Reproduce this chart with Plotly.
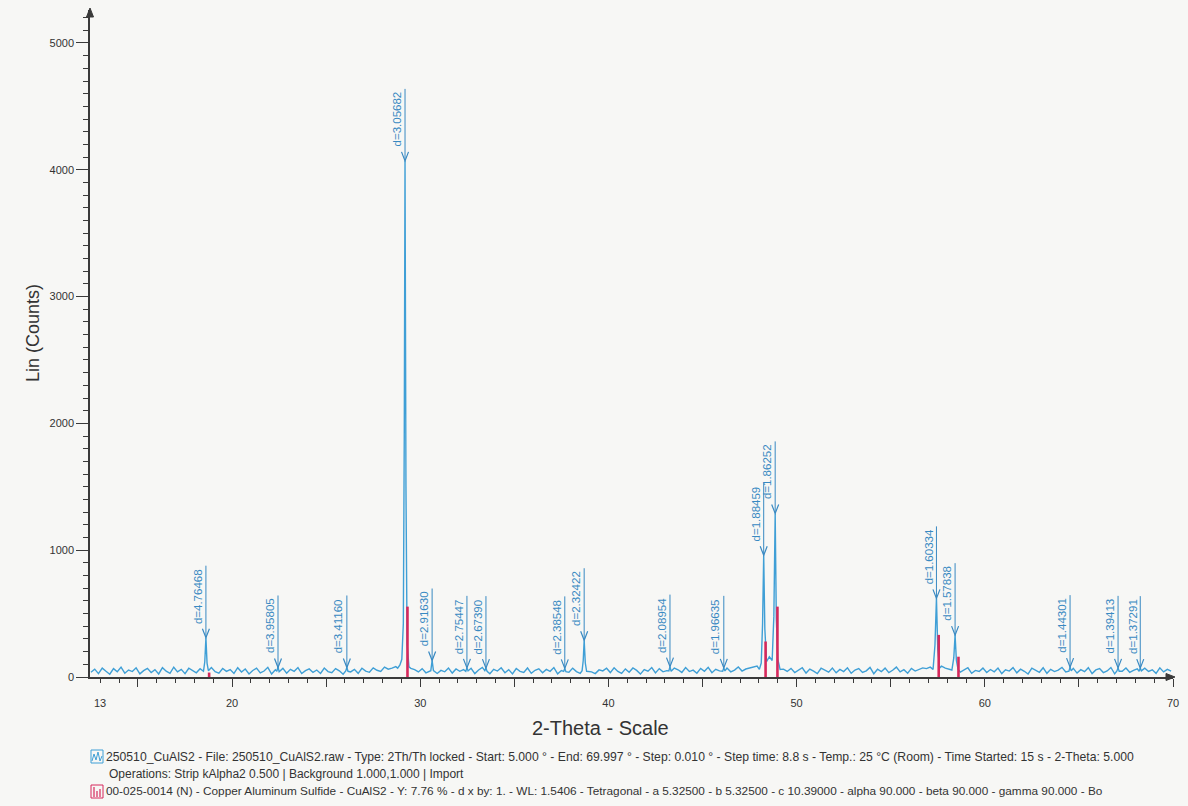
import numpy as np
import plotly.graph_objects as go

# ---------------- data ----------------
# measured scan, background counts on a 0.2 deg grid starting at 12.5 deg 2-theta
scan_start = 12.5
scan_step = 0.2
background_counts = [
    38, 62, 27, 70, 45, 22, 66, 41, 78, 30, 55, 43, 72, 25, 50, 68, 35, 58, 24, 74,
    46, 29, 77, 40, 60, 26, 69, 48, 33, 65, 21, 52, 75, 42, 31, 67, 44, 59, 28, 73,
    39, 63, 24, 51, 70, 32, 47, 76, 23, 57, 41, 68, 30, 61, 45, 74, 27, 50, 64, 36,
    55, 28, 71, 43, 34, 66, 49, 22, 75, 40, 60, 29, 69, 46, 37, 72, 53, 44, 78, 62,
    70, 82, 92, 96, 85, 68, 58, 40, 66, 33, 57, 72, 28, 52, 41, 70, 31, 63, 45, 58,
    38, 69, 27, 55, 76, 42, 26, 61, 47, 73, 34, 58, 24, 67, 44, 36, 71, 29, 53, 64,
    33, 60, 45, 74, 25, 51, 66, 37, 70, 43, 29, 62, 77, 40, 27, 56, 48, 69, 35, 73,
    44, 28, 64, 38, 71, 52, 23, 59, 46, 75, 32, 66, 41, 50, 26, 70, 57, 36, 74, 43,
    54, 30, 68, 45, 77, 34, 61, 48, 25, 71, 41, 55, 79, 47, 63, 72, 80, 86, 74, 82,
    88, 92, 80, 70, 62, 44, 68, 35, 57, 73, 31, 62, 46, 27, 69, 52, 38, 71, 33, 60,
    43, 72, 29, 55, 66, 36, 49, 76, 26, 61, 42, 70, 34, 53, 78, 40, 58, 30, 68, 47,
    60, 72, 66, 78, 82, 74, 85, 70, 62, 45, 67, 38, 58, 73, 29, 52, 44, 70, 35, 59,
    41, 71, 27, 57, 47, 74, 33, 62, 45, 24, 70, 52, 37, 73, 29, 60, 43, 55, 76, 39,
    50, 68, 31, 58, 42, 73, 27, 56, 66, 35, 48, 75, 25, 61, 45, 71, 37, 52, 64, 33,
    69, 44, 57, 29, 72, 40, 60, 47,
]

# diffraction peak profiles (2-theta, counts)
peak_theta = [
    [18.48, 18.55, 18.61, 18.67, 18.74],
    [22.38, 22.44, 22.50],
    [26.04, 26.10, 26.16],
    [28.80, 28.92, 29.02, 29.10, 29.15, 29.19, 29.24, 29.30, 29.40],
    [30.56, 30.63, 30.70],
    [32.42, 32.48, 32.54],
    [33.43, 33.49, 33.55],
    [37.62, 37.68, 37.74],
    [38.60, 38.66, 38.71, 38.77, 38.84],
    [43.21, 43.27, 43.33],
    [46.07, 46.13, 46.19],
    [48.02, 48.12, 48.19, 48.25, 48.31, 48.40, 48.55, 48.70, 48.79, 48.86, 48.92, 49.00, 49.12],
    [57.25, 57.35, 57.43, 57.50, 57.60],
    [58.25, 58.35, 58.42, 58.49, 58.58],
    [64.47, 64.53, 64.59],
    [67.02, 67.08, 67.14],
    [68.20, 68.26, 68.32],
]
peak_counts = [
    [45, 120, 310, 110, 50],
    [45, 80, 42],
    [48, 75, 45],
    [70, 95, 140, 420, 1900, 4070, 1500, 260, 80],
    [50, 130, 50],
    [45, 72, 48],
    [50, 70, 45],
    [45, 68, 42],
    [50, 130, 290, 110, 45],
    [48, 82, 45],
    [45, 72, 48],
    [60, 110, 420, 960, 380, 120, 160, 130, 480, 1290, 460, 140, 60],
    [60, 250, 620, 220, 70],
    [55, 150, 330, 130, 60],
    [45, 78, 48],
    [48, 72, 45],
    [45, 70, 48],
]

# d-spacing labels
label_d = ["4.76468", "3.95805", "3.41160", "3.05682", "2.91630", "2.75447", "2.67390",
           "2.38548", "2.32422", "2.08954", "1.96635", "1.88459", "1.86252", "1.60334",
           "1.57838", "1.44301", "1.39413", "1.37291"]
label_theta = [18.61, 22.44, 26.10, 29.19, 30.63, 32.48, 33.49, 37.68, 38.71, 43.27,
               46.13, 48.25, 48.86, 57.43, 58.42, 64.53, 67.08, 68.26]
label_counts = [310, 75, 75, 4070, 130, 72, 70, 68, 290, 82, 72, 960, 1290, 620, 330, 78, 72, 70]

# reference pattern 00-025-0014 CuAlS2 (stick positions, scaled intensity)
ref_theta = [18.78, 29.32, 48.35, 48.98, 57.55, 58.60]
ref_counts = [35, 555, 280, 555, 332, 160]

x_ticks = [15, 20, 25, 30, 35, 40, 45, 50, 55, 60, 65, 70]
x_ticktext = ["", "20", "", "30", "", "40", "", "50", "", "60", "", "70"]
y_ticks = [0, 1000, 2000, 3000, 4000, 5000]
y_ticktext = ["0", "1000", "2000", "3000", "4000", "5000"]

legend_line1 = ("250510_CuAlS2 - File: 250510_CuAlS2.raw - Type: 2Th/Th locked - Start: 5.000 ° - "
                "End: 69.997 ° - Step: 0.010 ° - Step time: 8.8 s - Temp.: 25 °C (Room) - "
                "Time Started: 15 s - 2-Theta: 5.000")
legend_line2 = "Operations: Strip kAlpha2 0.500 | Background 1.000,1.000 | Import"
legend_line3 = ("00-025-0014 (N) - Copper Aluminum Sulfide - CuAlS2 - Y: 7.76 % - d x by: 1. - "
                "WL: 1.5406 - Tetragonal - a 5.32500 - b 5.32500 - c 10.39000 - alpha 90.000 - "
                "beta 90.000 - gamma 90.000 - Bo")

# ---------------- assemble scan ----------------
bg_x = np.round(scan_start + scan_step * np.arange(len(background_counts)), 3)
bg_y = np.array(background_counts, dtype=float)
keep = np.ones(len(bg_x), dtype=bool)
for th in peak_theta:
    keep &= ~((bg_x >= min(th) - 0.06) & (bg_x <= max(th) + 0.06))
all_x = list(bg_x[keep])
all_y = list(bg_y[keep])
for th, ct in zip(peak_theta, peak_counts):
    all_x += th
    all_y += ct
order = np.argsort(all_x)
scan_x = np.array(all_x)[order]
scan_y = np.array(all_y)[order]

BLUE = "#3f9fd6"
LABEL_BLUE = "#3889c2"
RED = "#d6285c"
AXIS = "#3a3a3a"
TXT = "#333333"
FONT = "Liberation Sans, Arial, sans-serif"

fig = go.Figure()
fig.add_trace(go.Scatter(x=scan_x, y=scan_y, mode="lines",
                         line=dict(color=BLUE, width=1.4), hoverinfo="skip"))

sx, sy = [], []
for t, c in zip(ref_theta, ref_counts):
    sx += [t, t, None]
    sy += [0, c, None]
fig.add_trace(go.Scatter(x=sx, y=sy, mode="lines",
                         line=dict(color=RED, width=2.6), hoverinfo="skip"))

shapes = []
annotations = []
for d, t, c in zip(label_d, label_theta, label_counts):
    shapes.append(dict(type="line", xref="x", yref="y", x0=t, x1=t,
                       ysizemode="pixel", yanchor=c, y0=0, y1=72,
                       line=dict(color=LABEL_BLUE, width=1)))
    shapes.append(dict(type="path", xref="x", yref="y",
                       xsizemode="pixel", xanchor=t, ysizemode="pixel", yanchor=c,
                       path="M -3.5 9 L 0 0 L 3.5 9",
                       line=dict(color=LABEL_BLUE, width=1.2)))
    annotations.append(dict(x=t, y=c, xref="x", yref="y", text="d=" + d,
                            textangle=-90, showarrow=False, xanchor="right",
                            yanchor="bottom", yshift=12, xshift=0,
                            font=dict(family=FONT, size=11.5, color=LABEL_BLUE)))

# axis arrows
shapes.append(dict(type="path", xref="paper", yref="paper", xsizemode="pixel", ysizemode="pixel",
                   xanchor=0, yanchor=1, path="M -3.5 -7 L 0 2 L 3.5 -7 Z",
                   fillcolor=AXIS, line=dict(color=AXIS, width=1)))
shapes.append(dict(type="path", xref="paper", yref="paper", xsizemode="pixel", ysizemode="pixel",
                   xanchor=1, yanchor=0, path="M -7 3.5 L 2 0 L -7 -3.5 Z",
                   fillcolor=AXIS, line=dict(color=AXIS, width=1)))

# legend icons (pixel geometry anchored at the left plot edge)
shapes.append(dict(type="path", xref="paper", yref="paper", xsizemode="pixel", ysizemode="pixel",
                   xanchor=0, yanchor=(677 - 763) / 667,
                   path="M 1 0 H 13 V 13 H 1 Z", line=dict(color=BLUE, width=1)))
shapes.append(dict(type="path", xref="paper", yref="paper", xsizemode="pixel", ysizemode="pixel",
                   xanchor=0, yanchor=(677 - 763) / 667,
                   path="M 2 2 L 4 9 L 6 3 L 8 11 L 10 2 L 12 7",
                   line=dict(color=BLUE, width=1)))
shapes.append(dict(type="path", xref="paper", yref="paper", xsizemode="pixel", ysizemode="pixel",
                   xanchor=0, yanchor=(677 - 798) / 667,
                   path="M 1 0 H 13 V 13 H 1 Z", line=dict(color=RED, width=1)))
shapes.append(dict(type="path", xref="paper", yref="paper", xsizemode="pixel", ysizemode="pixel",
                   xanchor=0, yanchor=(677 - 798) / 667,
                   path="M 4 1 V 11 M 7 1 V 7 M 10 1 V 9",
                   line=dict(color=RED, width=1.2)))

def px_x(p):
    return (p - 90) / 1083.0

def px_y(p):
    return (677 - p) / 667.0

annotations += [
    dict(x=13, y=0, xref="x", yref="paper", text="13", showarrow=False,
         yanchor="top", yshift=-18, font=dict(family=FONT, size=11, color=TXT)),
    dict(x=px_x(600), y=px_y(728), xref="paper", yref="paper", text="2-Theta - Scale",
         showarrow=False, xanchor="center", yanchor="middle",
         font=dict(family=FONT, size=20, color=TXT)),
    dict(x=px_x(33), y=px_y(333), xref="paper", yref="paper", text="Lin (Counts)",
         textangle=-90, showarrow=False, xanchor="center", yanchor="middle",
         font=dict(family=FONT, size=18, color=TXT)),
    dict(x=px_x(104), y=px_y(757), xref="paper", yref="paper", text=legend_line1,
         showarrow=False, xanchor="left", yanchor="middle",
         font=dict(family=FONT, size=12.2, color=TXT)),
    dict(x=px_x(107), y=px_y(774), xref="paper", yref="paper", text=legend_line2,
         showarrow=False, xanchor="left", yanchor="middle",
         font=dict(family=FONT, size=12, color=TXT)),
    dict(x=px_x(104), y=px_y(791), xref="paper", yref="paper", text=legend_line3,
         showarrow=False, xanchor="left", yanchor="middle",
         font=dict(family=FONT, size=11.8, color=TXT)),
]

fig.update_layout(
    width=1188, height=806,
    margin=dict(l=90, r=15, t=10, b=129),
    paper_bgcolor="#f7f7f5", plot_bgcolor="#f7f7f5",
    showlegend=False,
    shapes=shapes, annotations=annotations,
    xaxis=dict(range=[12.45, 70.0], showgrid=False, zeroline=False,
               showline=True, linecolor=AXIS, linewidth=1.5,
               tickmode="array", tickvals=x_ticks, ticktext=x_ticktext,
               ticks="outside", ticklen=8, tickcolor=AXIS, tickwidth=1.2,
               ticklabelstandoff=7,
               tickfont=dict(family=FONT, size=11, color=TXT),
               minor=dict(tickmode="linear", tick0=0, dtick=1, ticks="outside",
                          ticklen=4, tickcolor=AXIS, tickwidth=1, showgrid=False)),
    yaxis=dict(range=[0, 5260], showgrid=False, zeroline=False,
               showline=True, linecolor=AXIS, linewidth=1.5,
               tickmode="array", tickvals=y_ticks, ticktext=y_ticktext,
               ticks="outside", ticklen=12, tickcolor=AXIS, tickwidth=1.2,
               tickfont=dict(family=FONT, size=11, color=TXT),
               minor=dict(tickmode="linear", tick0=0, dtick=100, ticks="outside",
                          ticklen=5, tickcolor=AXIS, tickwidth=1, showgrid=False)),
)

fig.write_html("out.html", config={"displayModeBar": False},
               post_script="document.body.style.margin='0px';document.body.style.overflow='hidden';")
